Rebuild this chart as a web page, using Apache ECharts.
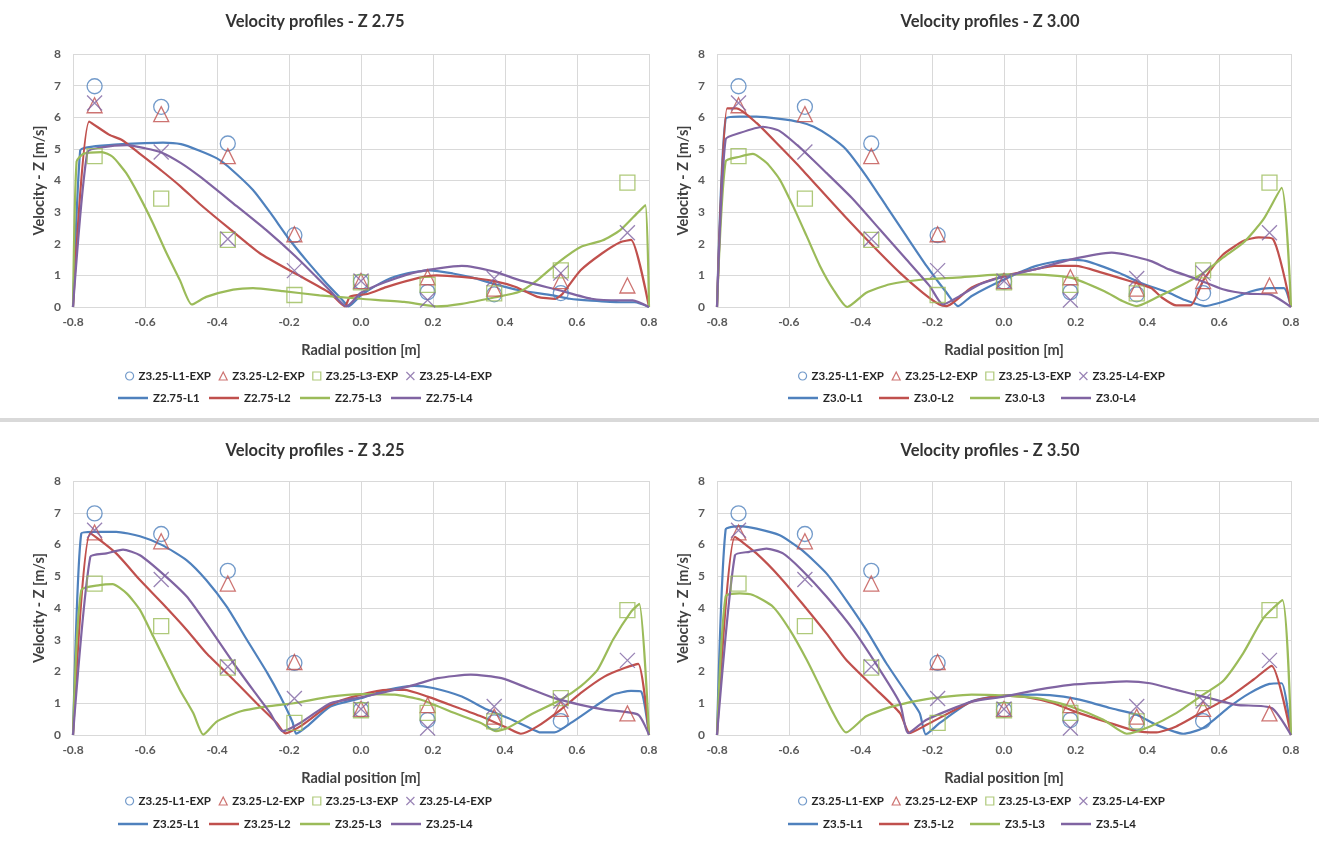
<!DOCTYPE html>
<html>
<head>
<meta charset="utf-8">
<script src="https://cdn.jsdelivr.net/npm/echarts@6/dist/echarts.min.js"></script>
<style>
  html, body { margin: 0; padding: 0; background: #fff; }
  #chart { width: 1319px; height: 843px; }
</style>
</head>
<body>
<div id="chart"></div>
<script>
// experimental points (same in every panel)
const expX  = [-0.74, -0.555, -0.37, -0.185, 0.0, 0.185, 0.37, 0.555, 0.74];
const expL1 = [6.98, 6.33, 5.17, 2.27, 0.8, 0.47, 0.4, 0.44, null];
const expL2 = [6.38, 6.1, 4.77, 2.3, 0.82, 0.94, 0.58, 0.82, 0.68];
const expL3 = [4.77, 3.43, 2.12, 0.38, 0.78, 0.7, 0.43, 1.16, 3.93];
const expL4 = [6.45, 4.9, 2.15, 1.15, 0.82, 0.22, 0.9, 1.07, 2.35];
const expNames = ['Z3.25-L1-EXP', 'Z3.25-L2-EXP', 'Z3.25-L3-EXP', 'Z3.25-L4-EXP'];

// CFD profiles, [radial position, velocity]
const z275L1 = [[-0.8,0],[-0.78,4.95],[-0.76,5.05],[-0.7,5.12],[-0.6,5.18],[-0.55,5.2],[-0.5,5.15],[-0.45,4.95],[-0.4,4.7],[-0.37,4.45],[-0.3,3.7],[-0.25,2.95],[-0.2,2.15],[-0.15,1.45],[-0.1,0.8],[-0.05,0.2],[-0.035,0.02],[0.0,0.37],[0.07,0.85],[0.126,1.06],[0.19,1.16],[0.255,1.06],[0.31,0.93],[0.366,0.74],[0.44,0.53],[0.533,0.37],[0.58,0.26],[0.64,0.2],[0.72,0.15],[0.76,0.15],[0.8,0]];
const z275L2 = [[-0.8,0],[-0.755,5.86],[-0.7,5.45],[-0.664,5.28],[-0.615,4.85],[-0.553,4.3],[-0.5,3.8],[-0.447,3.25],[-0.368,2.5],[-0.281,1.7],[-0.181,1.05],[-0.087,0.45],[-0.045,0.02],[-0.03,0.33],[0.02,0.42],[0.07,0.63],[0.16,0.92],[0.21,1.0],[0.28,0.95],[0.37,0.82],[0.43,0.63],[0.49,0.32],[0.54,0.26],[0.56,0.42],[0.61,1.16],[0.67,1.7],[0.72,2.05],[0.75,2.12],[0.8,0]];
const z275L3 = [[-0.8,0],[-0.79,4.6],[-0.77,4.85],[-0.72,4.9],[-0.69,4.75],[-0.652,4.23],[-0.615,3.49],[-0.578,2.65],[-0.54,1.7],[-0.503,0.85],[-0.47,0.08],[-0.43,0.32],[-0.355,0.55],[-0.3,0.6],[-0.217,0.5],[-0.115,0.37],[0.0,0.26],[0.12,0.16],[0.21,0.02],[0.28,0.1],[0.37,0.3],[0.44,0.48],[0.49,0.85],[0.55,1.43],[0.61,1.9],[0.67,2.1],[0.72,2.43],[0.77,3.0],[0.79,3.22],[0.8,0]];
const z275L4 = [[-0.8,0],[-0.76,4.9],[-0.72,5.05],[-0.65,5.12],[-0.6,5.02],[-0.553,4.88],[-0.5,4.55],[-0.447,4.12],[-0.355,3.28],[-0.263,2.43],[-0.18,1.58],[-0.087,0.53],[-0.04,0.02],[0.0,0.45],[0.07,0.8],[0.16,1.12],[0.28,1.3],[0.37,1.12],[0.44,0.85],[0.55,0.53],[0.64,0.26],[0.72,0.21],[0.755,0.21],[0.8,0]];

const z300L1 = [[-0.8,0],[-0.776,5.95],[-0.737,6.02],[-0.69,6.02],[-0.625,5.95],[-0.57,5.85],[-0.53,5.7],[-0.486,5.4],[-0.44,4.98],[-0.384,4.14],[-0.328,3.19],[-0.272,2.24],[-0.216,1.3],[-0.16,0.45],[-0.128,0.03],[-0.09,0.35],[0.0,0.87],[0.09,1.3],[0.185,1.5],[0.23,1.45],[0.32,1.08],[0.38,0.77],[0.46,0.45],[0.5,0.24],[0.56,0.03],[0.63,0.24],[0.69,0.5],[0.74,0.6],[0.78,0.6],[0.8,0]];
const z300L2 = [[-0.8,0],[-0.772,6.28],[-0.746,6.28],[-0.69,5.82],[-0.625,5.08],[-0.563,4.35],[-0.495,3.5],[-0.44,2.82],[-0.365,1.93],[-0.29,1.08],[-0.226,0.45],[-0.18,0.08],[-0.16,0.03],[-0.09,0.62],[0.0,0.98],[0.09,1.2],[0.14,1.3],[0.2,1.3],[0.275,1.08],[0.35,0.82],[0.41,0.6],[0.44,0.3],[0.48,0.05],[0.52,0.05],[0.556,0.85],[0.61,1.65],[0.67,2.1],[0.71,2.2],[0.75,2.15],[0.8,0]];
const z300L3 = [[-0.8,0],[-0.776,4.6],[-0.737,4.75],[-0.7,4.84],[-0.662,4.56],[-0.625,4.03],[-0.588,3.19],[-0.55,2.24],[-0.513,1.3],[-0.476,0.56],[-0.437,0.0],[-0.384,0.45],[-0.318,0.72],[-0.226,0.87],[-0.133,0.93],[0.0,1.03],[0.075,1.03],[0.185,0.93],[0.28,0.5],[0.33,0.19],[0.37,0.03],[0.425,0.3],[0.5,0.72],[0.556,1.08],[0.61,1.56],[0.667,2.03],[0.723,2.77],[0.774,3.77],[0.8,0]];
const z300L4 = [[-0.8,0],[-0.776,5.3],[-0.737,5.5],[-0.672,5.7],[-0.625,5.56],[-0.563,4.98],[-0.495,4.24],[-0.42,3.4],[-0.346,2.45],[-0.272,1.5],[-0.207,0.66],[-0.17,0.08],[-0.123,0.35],[-0.067,0.72],[0.0,0.96],[0.09,1.2],[0.185,1.5],[0.3,1.72],[0.35,1.63],[0.41,1.45],[0.46,1.19],[0.54,0.87],[0.61,0.56],[0.677,0.42],[0.74,0.4],[0.8,0]];

const z325L1 = [[-0.8,0],[-0.777,6.35],[-0.744,6.4],[-0.68,6.4],[-0.614,6.26],[-0.552,5.98],[-0.484,5.5],[-0.43,4.88],[-0.373,4.04],[-0.317,3.0],[-0.26,1.95],[-0.224,1.21],[-0.19,0.4],[-0.18,0.04],[-0.15,0.27],[-0.085,0.9],[0.0,1.16],[0.074,1.42],[0.148,1.55],[0.2,1.48],[0.28,1.21],[0.35,0.8],[0.41,0.53],[0.46,0.27],[0.5,0.08],[0.537,0.08],[0.583,0.38],[0.65,0.9],[0.7,1.27],[0.75,1.39],[0.778,1.37],[0.8,0]];
const z325L2 = [[-0.8,0],[-0.752,6.35],[-0.68,5.72],[-0.614,4.88],[-0.552,4.15],[-0.484,3.31],[-0.43,2.58],[-0.354,1.74],[-0.29,1.0],[-0.234,0.38],[-0.21,0.05],[-0.169,0.27],[-0.085,0.95],[0.0,1.27],[0.074,1.42],[0.12,1.42],[0.185,1.21],[0.26,0.9],[0.333,0.59],[0.407,0.22],[0.444,0.04],[0.49,0.27],[0.555,0.8],[0.61,1.32],[0.676,1.84],[0.73,2.1],[0.77,2.24],[0.8,0]];
const z325L3 = [[-0.8,0],[-0.777,4.56],[-0.726,4.72],[-0.69,4.75],[-0.651,4.46],[-0.614,3.94],[-0.577,3.1],[-0.54,2.26],[-0.503,1.42],[-0.466,0.69],[-0.438,0.01],[-0.4,0.43],[-0.336,0.74],[-0.26,0.9],[-0.187,1.0],[-0.085,1.21],[0.0,1.29],[0.093,1.27],[0.167,1.11],[0.26,0.69],[0.333,0.38],[0.375,0.12],[0.407,0.22],[0.48,0.69],[0.555,1.11],[0.61,1.53],[0.657,2.05],[0.7,3.0],[0.75,3.88],[0.773,4.13],[0.8,0]];
const z325L4 = [[-0.8,0],[-0.752,5.61],[-0.707,5.72],[-0.661,5.84],[-0.614,5.66],[-0.552,5.09],[-0.484,4.36],[-0.43,3.52],[-0.354,2.26],[-0.3,1.42],[-0.252,0.69],[-0.218,0.12],[-0.169,0.38],[-0.085,1.0],[0.0,1.19],[0.074,1.37],[0.148,1.58],[0.213,1.79],[0.305,1.9],[0.39,1.79],[0.463,1.48],[0.537,1.16],[0.61,0.95],[0.676,0.8],[0.77,0.64],[0.8,0]];

const z350L1 = [[-0.8,0],[-0.776,6.47],[-0.737,6.58],[-0.69,6.5],[-0.625,6.29],[-0.563,5.82],[-0.495,5.09],[-0.44,4.25],[-0.384,3.31],[-0.328,2.26],[-0.272,1.32],[-0.235,0.69],[-0.218,0.02],[-0.179,0.38],[-0.09,1.06],[0.0,1.24],[0.092,1.27],[0.166,1.21],[0.23,1.06],[0.295,0.85],[0.37,0.64],[0.425,0.32],[0.5,0.04],[0.555,0.22],[0.63,0.9],[0.685,1.32],[0.74,1.61],[0.774,1.63],[0.8,0]];
const z350L2 = [[-0.8,0],[-0.75,6.24],[-0.69,5.72],[-0.625,4.98],[-0.563,4.15],[-0.495,3.2],[-0.44,2.37],[-0.365,1.53],[-0.29,0.69],[-0.263,0.06],[-0.216,0.32],[-0.09,1.05],[0.0,1.24],[0.063,1.19],[0.137,1.0],[0.21,0.69],[0.295,0.38],[0.37,0.12],[0.425,0.08],[0.48,0.27],[0.555,0.74],[0.63,1.21],[0.695,1.74],[0.746,2.18],[0.8,0]];
const z350L3 = [[-0.8,0],[-0.776,4.36],[-0.737,4.46],[-0.7,4.41],[-0.644,4.04],[-0.597,3.31],[-0.55,2.37],[-0.513,1.53],[-0.476,0.69],[-0.44,0.08],[-0.384,0.59],[-0.31,0.9],[-0.216,1.13],[-0.09,1.27],[0.0,1.24],[0.092,1.16],[0.185,0.9],[0.277,0.48],[0.342,0.04],[0.407,0.27],[0.48,0.69],[0.555,1.27],[0.61,1.69],[0.667,2.58],[0.723,3.68],[0.776,4.25],[0.8,0]];
const z350L4 = [[-0.8,0],[-0.75,5.66],[-0.71,5.77],[-0.662,5.87],[-0.616,5.72],[-0.563,5.19],[-0.495,4.36],[-0.42,3.31],[-0.346,2.05],[-0.29,1.0],[-0.267,0.06],[-0.216,0.48],[-0.09,1.05],[0.0,1.21],[0.092,1.42],[0.185,1.58],[0.277,1.65],[0.342,1.69],[0.407,1.63],[0.48,1.42],[0.555,1.21],[0.648,0.95],[0.746,0.85],[0.8,0]];

const colors = ['#4F81BD', '#C0504D', '#9BBB59', '#8064A2'];
const xMark = 'path://M0,0L10,10M10,0L0,10';
const expSymbols = ['circle', 'triangle', 'rect', xMark];
const expData = [expL1, expL2, expL3, expL4];
const FONT = 'Lato, "Open Sans", sans-serif';
const LEG_SIZE = 11.5;

const panels = [
  { title: 'Velocity profiles - Z 2.75', names: ['Z2.75-L1','Z2.75-L2','Z2.75-L3','Z2.75-L4'],
    lines: [z275L1, z275L2, z275L3, z275L4], titleTop: 8,
    grid: { left: 73, top: 54, width: 576, height: 253 }, cx: 310, legLeft: [120, 113], legTop: [365, 387] },
  { title: 'Velocity profiles - Z 3.00', names: ['Z3.0-L1','Z3.0-L2','Z3.0-L3','Z3.0-L4'],
    lines: [z300L1, z300L2, z300L3, z300L4], titleTop: 8,
    grid: { left: 717, top: 54, width: 574, height: 253 }, cx: 985, legLeft: [793, 783], legTop: [365, 387] },
  { title: 'Velocity profiles - Z 3.25', names: ['Z3.25-L1','Z3.25-L2','Z3.25-L3','Z3.25-L4'],
    lines: [z325L1, z325L2, z325L3, z325L4], titleTop: 437,
    grid: { left: 73, top: 481, width: 576, height: 254 }, cx: 310, legLeft: [120, 113], legTop: [790, 813] },
  { title: 'Velocity profiles - Z 3.50', names: ['Z3.5-L1','Z3.5-L2','Z3.5-L3','Z3.5-L4'],
    lines: [z350L1, z350L2, z350L3, z350L4], titleTop: 437,
    grid: { left: 717, top: 481, width: 574, height: 254 }, cx: 985, legLeft: [793, 783], legTop: [790, 813] }
];

// width of the longest label, so the legend columns keep a fixed pitch
const ctx = document.createElement('canvas').getContext('2d');
ctx.font = 'bold ' + LEG_SIZE + 'px ' + FONT;
const maxW = names => Math.max.apply(null, names.map(n => ctx.measureText(n).width));

const titles = [], grids = [], xAxes = [], yAxes = [], legends = [], series = [];
const tickLabel = { color: '#595959', fontWeight: 'bold', fontSize: 12, fontFamily: FONT };
const axisName = { color: '#404040', fontWeight: 'bold', fontSize: 14.5, fontFamily: FONT };
const gridLine = { show: true, lineStyle: { color: '#D9D9D9', width: 1 } };

panels.forEach((p, i) => {
  titles.push({ text: p.title, left: p.cx, top: p.titleTop, textAlign: 'center',
    textStyle: { fontSize: 16.5, fontWeight: 'bold', color: '#333', fontFamily: FONT } });
  grids.push(p.grid);
  xAxes.push({ type: 'value', gridIndex: i, min: -0.8, max: 0.8, interval: 0.2,
    name: 'Radial position [m]', nameLocation: 'middle', nameGap: 36, nameTextStyle: axisName,
    axisLine: { show: true, lineStyle: { color: '#D9D9D9' } }, axisTick: { show: false },
    axisLabel: Object.assign({ margin: 9, formatter: v => v.toFixed(1) }, tickLabel),
    splitLine: gridLine });
  yAxes.push({ type: 'value', gridIndex: i, min: 0, max: 8, interval: 1,
    name: 'Velocity - Z [m/s]', nameLocation: 'middle', nameGap: 26, nameTextStyle: axisName,
    axisLine: { show: false }, axisTick: { show: false },
    axisLabel: Object.assign({ margin: 12 }, tickLabel),
    splitLine: gridLine });

  p.lines.forEach((d, k) => {
    series.push({ type: 'line', name: p.names[k], xAxisIndex: i, yAxisIndex: i,
      data: d, showSymbol: false, symbol: 'none', smooth: 0.2,
      lineStyle: { color: colors[k], width: 2.2 }, itemStyle: { color: colors[k] }, z: 2 });
  });
  expData.forEach((vals, k) => {
    const pts = [];
    expX.forEach((x, j) => { if (vals[j] != null) pts.push([x, vals[j]]); });
    series.push({ type: 'scatter', name: expNames[k], xAxisIndex: i, yAxisIndex: i,
      data: pts, symbol: expSymbols[k], symbolSize: 15,
      itemStyle: { color: 'rgba(0,0,0,0)', borderColor: colors[k], borderWidth: 1.3 }, z: 3 });
  });

  const legText = { color: '#262626', fontWeight: 'bold', fontSize: LEG_SIZE, fontFamily: FONT };
  legends.push({ left: p.legLeft[0], top: p.legTop[0], orient: 'horizontal',
    itemWidth: 8, itemHeight: 8, itemGap: 93 - 8 - 5 - maxW(expNames), selectedMode: false,
    textStyle: legText,
    data: expNames.map((n, k) => ({ name: n, icon: expSymbols[k],
      itemStyle: { color: 'rgba(0,0,0,0)', borderColor: colors[k], borderWidth: 1.2 } })) });
  legends.push({ left: p.legLeft[1], top: p.legTop[1], orient: 'horizontal',
    itemWidth: 30, itemHeight: 2.5, itemGap: 91 - 30 - 5 - maxW(p.names), selectedMode: false,
    textStyle: legText,
    data: p.names.map((n, k) => ({ name: n, icon: 'rect', itemStyle: { color: colors[k] } })) });
});

const chart = echarts.init(document.getElementById('chart'), null, { renderer: 'canvas' });
chart.setOption({
  animation: false,
  backgroundColor: '#fff',
  title: titles,
  grid: grids,
  xAxis: xAxes,
  yAxis: yAxes,
  legend: legends,
  series: series,
  graphic: [{ type: 'rect', shape: { x: 0, y: 418, width: 1319, height: 4 }, style: { fill: '#D9D9D9' } }]
});
</script>
</body>
</html>
